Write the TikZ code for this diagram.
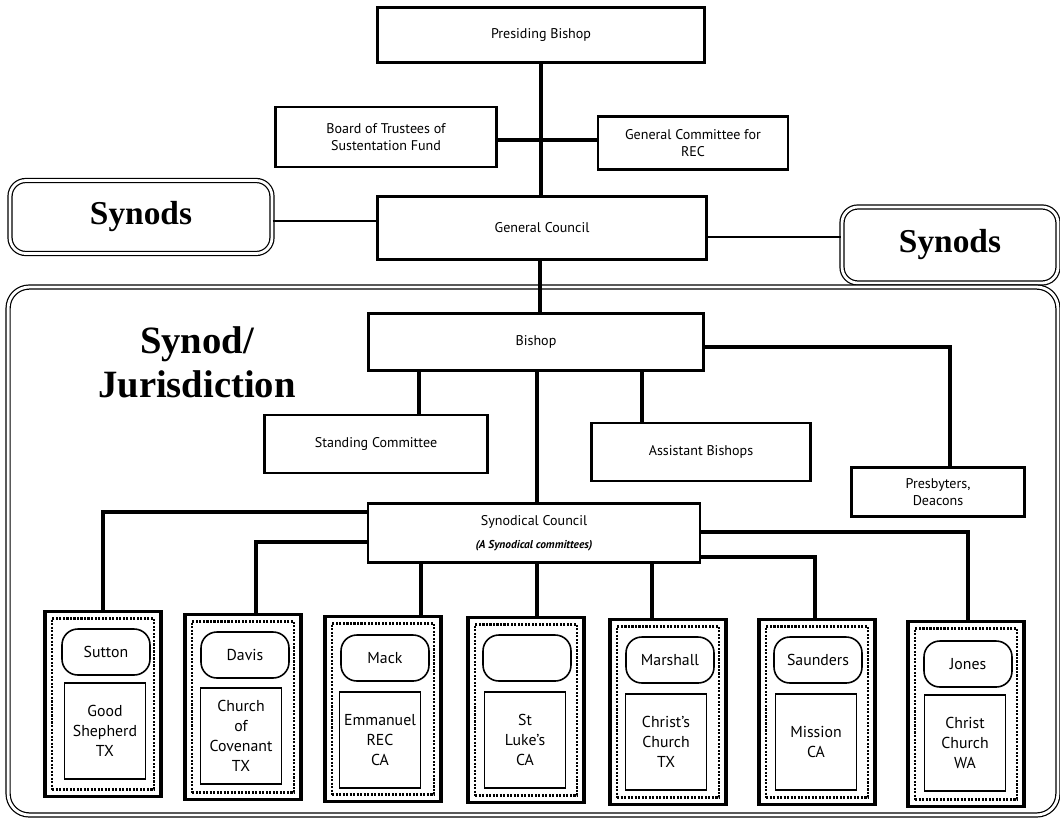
\documentclass[tikz,border=0pt]{standalone}
\usepackage{fontspec}
\setmainfont{Liberation Serif}
\setsansfont{PT Sans}

\begin{document}
\begin{tikzpicture}[x=0.02cm, y=-0.02cm,
            every node/.style={
            inner sep=0.1em, text centered, align=center, font=\sffamily\fontsize{8}{10}\selectfont}
        ]
        \tikzstyle {org_box} = [draw, line width=1.2pt, fill=white]
        \tikzstyle {synod_box} = [draw, double, double distance=1.6pt, line width=0.7pt, rounded corners=9pt, font=\rmfamily\bfseries\fontsize{19}{22}\selectfont]
        \tikzstyle {church_box} = [draw, line width=2pt, minimum width=2.32cm, minimum height=3.7cm]
        \tikzstyle {orn_box} = [draw, line width=1.6pt, dash pattern=on 1.2pt off 0.8pt, minimum width=2.04cm, minimum height=3.42cm]
        \tikzstyle {pastor} = [draw, line width=0.9pt, fill=white, rounded corners=9pt, minimum width=1.76cm, minimum height=0.92cm, font=\sffamily\fontsize{9}{11}\selectfont]
        \tikzstyle {parish} = [draw, line width=0.9pt, fill=white, minimum width=1.62cm, minimum height=1.92cm, font=\sffamily\fontsize{9}{11.5}\selectfont]
        \tikzstyle {link} = [line width=1.8pt]
        \tikzstyle {thin_link} = [line width=1pt]

        \useasboundingbox (0,0) rectangle (1060,829);

        % top of the chart
        \node [org_box, minimum width=6.54cm, minimum height=1.1cm] (pb) at (541,35) {Presiding Bishop};
        \node [org_box, minimum width=4.42cm, minimum height=1.2cm] (trust) at (386,137) {Board of Trustees of\\Sustentation Fund};
        \node [org_box, minimum width=3.8cm, minimum height=1.06cm] (rec) at (693,143) {General Committee for\\REC};
        \node [org_box, minimum width=6.58cm, minimum height=1.26cm] (gc) at (542,228) {General Council};
        \node [synod_box, minimum width=5.24cm, minimum height=1.46cm] (syn_l) at (141,217) {Synods};
        \node [synod_box, minimum width=4.32cm, minimum height=1.52cm] (syn_r) at (950,245) {Synods};

        % synod frame
        \node [draw, double, double distance=1.6pt, line width=0.7pt, rounded corners=12pt, minimum width=21cm, minimum height=10.56cm] (jur) at (533,551) {};
        \node [font=\rmfamily\bfseries\fontsize{22}{25}\selectfont] (jur_title) at (197,362) {Synod/\\Jurisdiction};

        \node [org_box, minimum width=6.7cm, minimum height=1.14cm] (bishop) at (536,342) {Bishop};
        \node [org_box, minimum width=4.46cm, minimum height=1.16cm] (stand) at (376,444) {Standing Committee};
        \node [org_box, minimum width=4.38cm, minimum height=1.16cm] (assist) at (701,452) {Assistant Bishops};
        \node [org_box, minimum width=3.46cm, minimum height=0.98cm] (presb) at (938,492) {Presbyters,\\Deacons};
        \node [org_box, minimum width=6.64cm, minimum height=1.18cm] (sc) at (534,533) {Synodical Council\\[3pt]{\bfseries\itshape\fontsize{6.5}{8}\selectfont (A Synodical committees)}};

        % parishes
        \node [church_box] (sutton) at (103,704) {};
        \node [orn_box] (sutton_orn) at (103,704) {};
        \node [pastor] (sutton_name) at (106,652) {Sutton};
        \node [parish] (sutton_church) at (105,731) {Good\\Shepherd\\TX};

        \node [church_box] (davis) at (243,707) {};
        \node [orn_box] (davis_orn) at (243,707) {};
        \node [pastor] (davis_name) at (245,655) {Davis};
        \node [parish] (davis_church) at (241,736) {Church\\of\\Covenant\\TX};

        \node [church_box] (mack) at (383,709) {};
        \node [orn_box] (mack_orn) at (383,709) {};
        \node [pastor] (mack_name) at (385,658) {Mack};
        \node [parish] (mack_church) at (380,740) {Emmanuel\\REC\\CA};

        \node [church_box] (stluke) at (526,710) {};
        \node [orn_box] (stluke_orn) at (526,710) {};
        \node [pastor] (stluke_name) at (527,658) {};
        \node [parish] (stluke_church) at (525,740) {St\\Luke's\\CA};

        \node [church_box] (marshall) at (668,712) {};
        \node [orn_box] (marshall_orn) at (668,712) {};
        \node [pastor] (marshall_name) at (670,660) {Marshall};
        \node [parish] (marshall_church) at (666,742) {Christ's\\Church\\TX};

        \node [church_box] (saunders) at (817,712) {};
        \node [orn_box] (saunders_orn) at (817,712) {};
        \node [pastor] (saunders_name) at (818,660) {Saunders};
        \node [parish] (saunders_church) at (816,742) {Mission\\CA};

        \node [church_box] (jones) at (966,714) {};
        \node [orn_box] (jones_orn) at (966,714) {};
        \node [pastor] (jones_name) at (968,664) {Jones};
        \node [parish] (jones_church) at (965,743) {Christ\\Church\\WA};

        % connectors
        \draw [link] (pb.south) -- (pb.south |- gc.north);
        \draw [link] (trust.east |- 0,140) -- (rec.west |- 0,140);
        \draw [thin_link] (syn_l.east |- 0,221) -- (gc.west |- 0,221);
        \draw [thin_link] (gc.east |- 0,237) -- (syn_r.west |- 0,237);
        \draw [link] (gc.south -| 540,0) -- (bishop.north -| 540,0);

        \draw [link] (bishop.south -| 419,0) -- (stand.north -| 419,0);
        \draw [link] (bishop.south -| 537,0) -- (sc.north -| 537,0);
        \draw [link] (bishop.south -| 642,0) -- (assist.north -| 642,0);
        \draw [link] (bishop.east |- 0,347) -- (950,347) -- (presb.north -| 950,0);

        \draw [link] (sc.west |- 0,512) -| (sutton.north);
        \draw [link] (sc.west |- 0,542) -| (davis.north -| 256,0);
        \draw [link] (sc.south -| 421,0) -- (mack.north -| 421,0);
        \draw [link] (sc.south -| 537,0) -- (stluke.north -| 537,0);
        \draw [link] (sc.south -| 652,0) -- (marshall.north -| 652,0);
        \draw [link] (sc.east |- 0,557) -| (saunders.north -| 815,0);
        \draw [link] (sc.east |- 0,532) -| (jones.north -| 968,0);

\end{tikzpicture}
\end{document}
